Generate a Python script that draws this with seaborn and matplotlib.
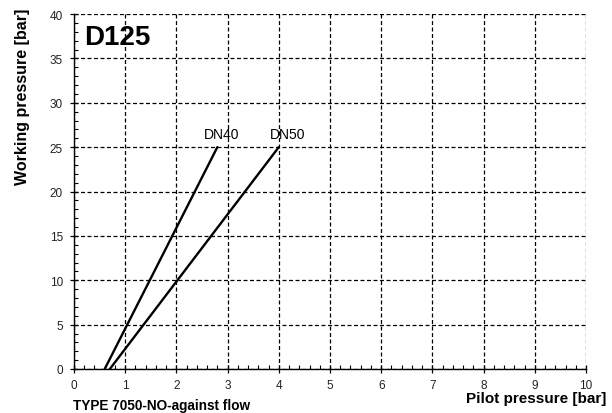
import matplotlib
matplotlib.use("Agg")
import matplotlib.pyplot as plt
from matplotlib.ticker import MultipleLocator
import seaborn as sns
import pandas as pd

# Data
series = ["DN40", "DN40", "DN50", "DN50"]
pilot = [0.6, 2.8, 0.7, 4.0]
working = [0.0, 25.0, 0.0, 25.0]
label_names = ["DN40", "DN50"]
label_x = [2.88, 4.18]
label_y = [26.0, 26.0]

df = pd.DataFrame({"series": series, "pilot": pilot, "working": working})

sns.set_theme(style="white")
plt.rcParams["font.family"] = ["Liberation Sans", "DejaVu Sans"]

fig = plt.figure(figsize=(6.12, 4.14), dpi=100)
ax = fig.add_axes([74/612, 1 - 370/414, (586-74)/612, (370-15)/414])

sns.lineplot(data=df, x="pilot", y="working", units="series", estimator=None,
             color="black", linewidth=1.7, ax=ax, legend=False)

ax.set_xlim(0, 10)
ax.set_ylim(0, 40)
ax.xaxis.set_major_locator(MultipleLocator(1))
ax.xaxis.set_minor_locator(MultipleLocator(0.2))
ax.yaxis.set_major_locator(MultipleLocator(5))
ax.yaxis.set_minor_locator(MultipleLocator(1))
ax.grid(True, which="major", color="black", linestyle=(0, (3.2, 2.0)), linewidth=0.9)
ax.set_axisbelow(False)

for s in ["top", "right"]:
    ax.spines[s].set_visible(False)
for s in ["left", "bottom"]:
    ax.spines[s].set_color("black")
    ax.spines[s].set_linewidth(1.0)

ax.tick_params(which="major", direction="inout", length=6, width=0.9, color="black",
               labelsize=8.5, labelcolor="#222222", bottom=True, left=True)
ax.tick_params(axis="x", which="major", pad=4.0)
ax.tick_params(axis="y", which="major", pad=5.0)
ax.tick_params(which="minor", direction="in", length=3, width=0.8, color="black",
               bottom=True, left=True)

ax.set_xlabel("")
ax.set_ylabel("")

for n, x, y in zip(label_names, label_x, label_y):
    ax.text(x, y, n, ha="center", va="baseline", fontsize=10, color="black")

ax.text((84-74)/512, (370-45)/355, "D125", transform=ax.transAxes, fontsize=20,
        fontweight="bold", ha="left", va="baseline", color="black")

fig.text(606/612, 1 - 403/414, "Pilot pressure [bar]", ha="right", va="baseline",
         fontsize=11.0, fontweight="bold", color="black")
fig.text(73/612, 1 - 410.5/414, "TYPE 7050-NO-against flow", ha="left", va="baseline",
         fontsize=9.8, fontweight="bold", color="black")
fig.text(23/612, 1 - 97/414, "Working pressure [bar]", ha="center", va="center",
         rotation=90, fontsize=11.5, fontweight="bold", color="black")

fig.savefig("out.png", dpi=100)
